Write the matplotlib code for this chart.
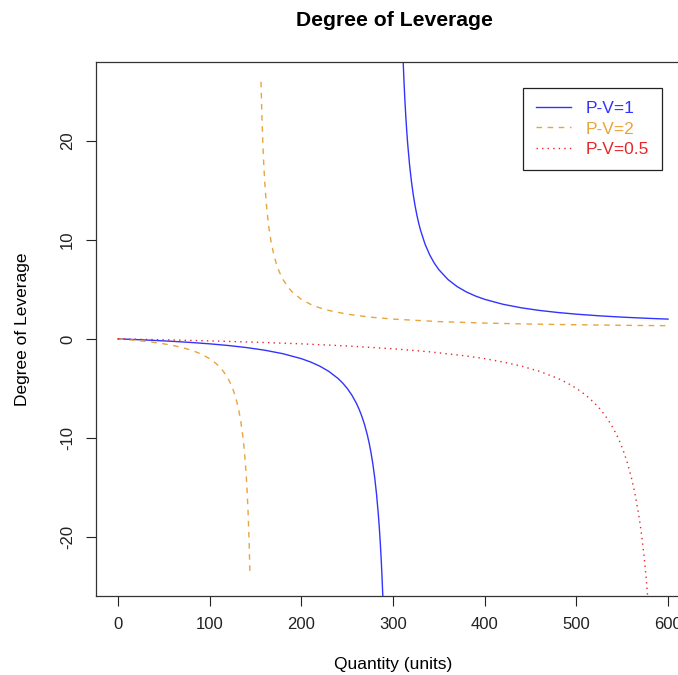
import matplotlib
matplotlib.use("Agg")
import matplotlib.pyplot as plt

plt.rcParams['font.family'] = ['Liberation Sans', 'DejaVu Sans']

# P-V = 1 (branch below break-even, branch above break-even)
q1_neg = [0, 20, 40, 60, 80, 100, 120, 140, 160, 180, 200, 210, 220, 230, 240, 245, 250, 255, 260,
          263, 266, 269, 272, 274, 276, 278, 280, 282, 284, 285, 286, 287, 288, 289, 290]
d1_neg = [0, -0.0714, -0.1538, -0.25, -0.3636, -0.5, -0.6667, -0.875, -1.1429, -1.5, -2, -2.3333,
          -2.75, -3.2857, -4, -4.4545, -5, -5.6667, -6.5, -7.108, -7.824, -8.677, -9.714, -10.538,
          -11.5, -12.636, -14, -15.667, -17.75, -19, -20.429, -22.077, -24, -26.273, -29]
q1_pos = [311, 312, 313, 314, 315, 316, 318, 320, 322, 324, 326, 328, 330, 335, 340, 345, 350, 360,
          370, 380, 390, 400, 420, 440, 460, 480, 500, 525, 550, 575, 600]
d1_pos = [28.27, 26, 24.08, 22.43, 21, 19.75, 17.67, 16, 14.636, 13.5, 12.538, 11.714, 11, 9.571,
          8.5, 7.667, 7, 6, 5.286, 4.75, 4.333, 4, 3.5, 3.143, 2.875, 2.667, 2.5, 2.333, 2.2, 2.0909, 2]

# P-V = 2
q2_neg = [0, 10, 20, 30, 40, 50, 60, 70, 80, 90, 100, 105, 110, 115, 120, 123, 125, 128, 130, 132,
          134, 136, 137, 138, 139, 140, 141, 142, 143, 144]
d2_neg = [0, -0.0714, -0.1538, -0.25, -0.3636, -0.5, -0.6667, -0.875, -1.1429, -1.5, -2, -2.3333,
          -2.75, -3.2857, -4, -4.556, -5, -5.818, -6.5, -7.333, -8.375, -9.714, -10.538, -11.5,
          -12.636, -14, -15.667, -17.75, -20.429, -24]
q2_pos = [156, 157, 158, 159, 160, 161, 162, 163, 164, 165, 167, 170, 173, 176, 180, 185, 190, 200,
          210, 220, 230, 250, 275, 300, 350, 400, 450, 500, 550, 600]
d2_pos = [26, 22.429, 19.75, 17.667, 16, 14.636, 13.5, 12.538, 11.714, 11, 9.824, 8.5, 7.522, 6.769,
          6, 5.286, 4.75, 4, 3.5, 3.143, 2.875, 2.5, 2.2, 2, 1.75, 1.6, 1.5, 1.4286, 1.375, 1.3333]

# P-V = 0.5
q3 = [0, 50, 100, 150, 200, 250, 300, 340, 380, 400, 420, 440, 460, 480, 490, 500, 510, 520, 526,
      532, 538, 544, 548, 552, 556, 560, 564, 568, 570, 572, 574, 576, 578, 580]
d3 = [0, -0.0909, -0.2, -0.3333, -0.5, -0.7143, -1, -1.3077, -1.7273, -2, -2.3333, -2.75, -3.2857,
      -4, -4.4545, -5, -5.6667, -6.5, -7.108, -7.824, -8.677, -9.714, -10.538, -11.5, -12.636, -14,
      -15.667, -17.75, -19, -20.429, -22.077, -24, -26.273, -29]

labels = ["P-V=1", "P-V=2", "P-V=0.5"]
colors = ["#3333FF", "#E9A43C", "#E8262B"]
x_ticks = [0, 100, 200, 300, 400, 500, 600]
y_ticks = [-20, -10, 0, 10, 20]

fig = plt.figure(figsize=(6.78, 6.75), dpi=100)
ax = fig.add_axes([96/678, 1-596/675, (690-96)/678, (596-62)/675])

lw = 1.0
ax.plot(q1_neg, d1_neg, color=colors[0], lw=lw, label=labels[0])
ax.plot(q1_pos, d1_pos, color=colors[0], lw=lw)
ax.plot(q2_neg, d2_neg, color=colors[1], lw=lw, dashes=(4, 4), label=labels[1])
ax.plot(q2_pos, d2_pos, color=colors[1], lw=lw, dashes=(4, 4))
ax.plot(q3, d3, color=colors[2], lw=lw, dashes=(1, 3), label=labels[2])

ax.set_xlim(-24, 624)
ax.set_ylim(-26, 28)
ax.set_xticks(x_ticks)
ax.set_yticks(y_ticks)
ax.set_yticklabels([str(v) for v in y_ticks], rotation=90, va='center')
ax.tick_params(direction='out', length=7, width=0.8, labelsize=12, pad=8, colors='#222222')
for s in ax.spines.values():
    s.set_linewidth(0.9)
    s.set_color('#333333')
ax.spines['right'].set_visible(False)

ax.set_xlabel("Quantity (units)", fontsize=12.5, labelpad=18)
ax.set_ylabel("Degree of Leverage", fontsize=12.5, labelpad=22)
fig.text(394/678, 1-20/675, "Degree of Leverage", fontsize=15.2, fontweight='bold',
         ha='center', va='center')

leg = ax.legend(loc='upper right', bbox_to_anchor=(662/678, 1-88/675),
                bbox_transform=fig.transFigure, fancybox=False, framealpha=1,
                edgecolor='#222222', fontsize=12.5, labelcolor=colors,
                handlelength=2.0, borderpad=0.75, labelspacing=0.3, handletextpad=0.85,
                borderaxespad=0)
leg.get_frame().set_linewidth(0.9)

fig.savefig("out.png", dpi=100)
